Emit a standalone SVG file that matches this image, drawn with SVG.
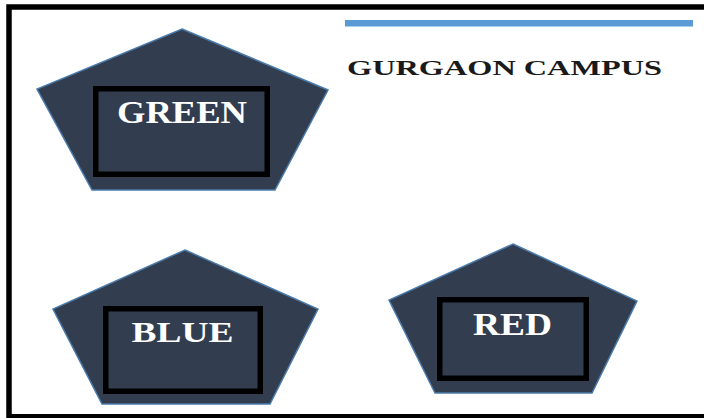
<svg xmlns="http://www.w3.org/2000/svg" width="704" height="418" viewBox="0 0 704 418">
<style>
.pent{fill:#323e50;stroke:#4a7bab;stroke-width:1.5;stroke-linejoin:miter}
.box{fill:none;stroke:#000;stroke-width:5.5}
.lbl{font-family:"Liberation Serif","Times New Roman",serif;font-weight:bold;fill:#fff;text-anchor:middle}
.title{font-family:"Liberation Serif","Times New Roman",serif;font-weight:bold;fill:#1a1a1a}
</style>
<rect x="0" y="0" width="704" height="418" fill="#fff"/>
<g id="frame">
<path d="M704 7 H9 V418" fill="none" stroke="#000" stroke-width="5.5"/>
<line x1="9" y1="416.5" x2="704" y2="416.5" stroke="#000" stroke-width="5"/>
</g>
<g id="title">
<line x1="345" y1="23.3" x2="693" y2="23.3" stroke="#5b9bd5" stroke-width="6.5"/>
<text class="title" x="347" y="75" font-size="22" textLength="315" lengthAdjust="spacingAndGlyphs">GURGAON CAMPUS</text>
</g>
<g id="green">
<polygon class="pent" points="182,29 328,90 275,190 92,190 37,89"/>
<rect class="box" x="95.75" y="88.75" width="171.5" height="85.5"/>
<text class="lbl" x="182" y="123" font-size="31" textLength="130" lengthAdjust="spacingAndGlyphs">GREEN</text>
</g>
<g id="blue">
<polygon class="pent" points="185,250 318,309 270,404 102,404 53,309"/>
<rect class="box" x="105.75" y="308.75" width="154.5" height="82.5"/>
<text class="lbl" x="182.5" y="342" font-size="29" textLength="102" lengthAdjust="spacingAndGlyphs">BLUE</text>
</g>
<g id="red">
<polygon class="pent" points="513,244 637,301 592,393 435,393 389,300"/>
<rect class="box" x="439.75" y="299.75" width="146.5" height="78.5"/>
<text class="lbl" x="512.5" y="335" font-size="31" textLength="79" lengthAdjust="spacingAndGlyphs">RED</text>
</g>
</svg>
